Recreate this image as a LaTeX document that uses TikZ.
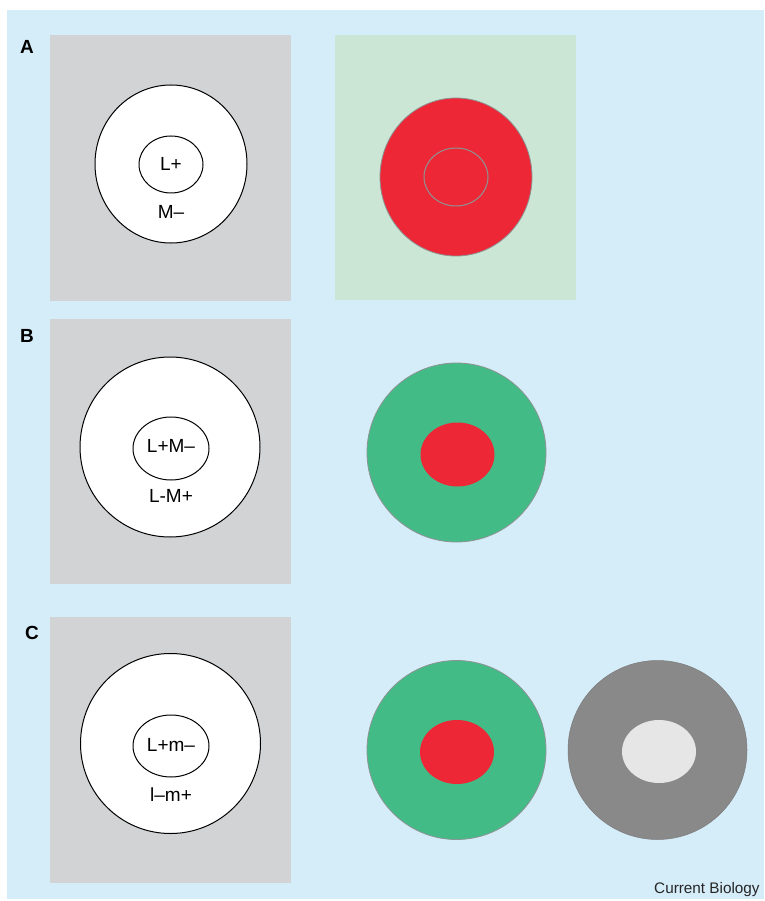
\documentclass[tikz,border=0pt]{standalone}
\usepackage{fontspec}
\setmainfont{Liberation Sans}
\definecolor{bgblue}{HTML}{D5ECF9}
\definecolor{panelgray}{HTML}{D1D3D4}
\definecolor{panelgreen}{HTML}{CBE6D5}
\definecolor{cred}{HTML}{EE2737}
\definecolor{cgreen}{HTML}{43BB86}
\definecolor{cdark}{HTML}{898989}
\definecolor{clight}{HTML}{E6E6E6}
\definecolor{rimgray}{HTML}{8C9494}
\tikzset{
  panellabel/.style={font=\bfseries\fontsize{19}{19}\selectfont, inner sep=0pt},
  celltext/.style={font=\fontsize{19}{19}\selectfont, inner sep=0pt},
  outline/.style={draw=black, line width=1pt},
  rim/.style={draw=rimgray, line width=0.8pt},
}
\begin{document}
\begin{tikzpicture}[x=1pt,y=-1pt]
\useasboundingbox (0,0) rectangle (764,901);
\fill[white] (0,0) rectangle (764,901);
\fill[bgblue] (7,10) rectangle (764,899);

% Panel A
\fill[panelgray] (50,35) rectangle (291,301);
\filldraw[fill=white, outline] (171,164) ellipse [x radius=76, y radius=79];
\draw[outline] (171,164.5) ellipse [x radius=32, y radius=28.5];
\node[panellabel] (la) at (27,47) {A};
\node[celltext] (ta1) at (171,164) {L+};
\node[celltext] (ta2) at (171,212) {M–};

\fill[panelgreen] (335,35) rectangle (576,300);
\filldraw[fill=cred, rim] (456,177) ellipse [x radius=76, y radius=79];
\draw[rim, line width=1pt] (456,177) ellipse [x radius=32, y radius=29];

% Panel B
\fill[panelgray] (50,319) rectangle (291,584);
\filldraw[fill=white, outline] (170,447) circle [radius=90];
\draw[outline] (171,448.5) ellipse [x radius=38, y radius=31.5];
\node[panellabel] (lb) at (27,336) {B};
\node[celltext] (tb1) at (171,446) {L+M–};
\node[celltext] (tb2) at (171,496) {L-M+};

\filldraw[fill=cgreen, rim] (456.5,452.5) circle [radius=89.5];
\fill[cred] (457.5,454.5) ellipse [x radius=37, y radius=32];

% Panel C
\fill[panelgray] (50,617) rectangle (291,883);
\filldraw[fill=white, outline] (170.5,743.5) circle [radius=90];
\draw[outline] (171,746) ellipse [x radius=38, y radius=31];
\node[panellabel] (lc) at (32,633) {C};
\node[celltext] (tc1) at (171,745) {L+m–};
\node[celltext] (tc2) at (171,795) {l–m+};

\filldraw[fill=cgreen, rim] (456.5,750) circle [radius=89.5];
\fill[cred] (457,752) ellipse [x radius=37, y radius=32];

\filldraw[fill=cdark, draw=cdark!90!black, line width=0.5pt] (657.5,750) circle [radius=89.5];
\fill[clight] (659,751.5) ellipse [x radius=37, y radius=31.5];

\node[anchor=base west, inner sep=0pt, font=\fontsize{15.3}{15.3}\selectfont, text=black!85] (cb) at (654,893) {Current Biology};
\end{tikzpicture}
\end{document}
